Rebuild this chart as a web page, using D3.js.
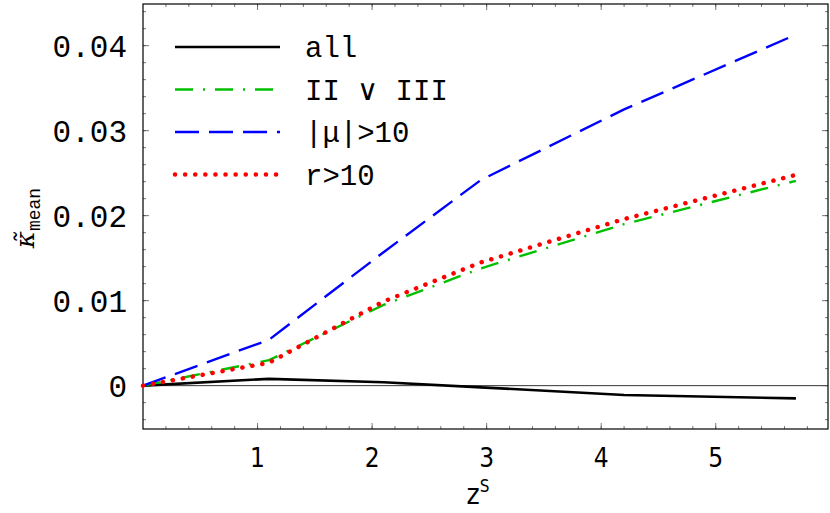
<!DOCTYPE html>
<html><head><meta charset="utf-8">
<script src="https://cdn.jsdelivr.net/npm/d3@7"></script>
<style>body{margin:0;background:#fff}</style>
</head><body><div id="chart"></div>
<script>
// data
const zs = [0, 1.1, 2.1, 2.95, 4.2, 5.7];
const allVals = [0, 0.0008, 0.0004, -0.0002, -0.0011, -0.0015];
const iiIiiVals = [0, 0.0030, 0.0095, 0.0138, 0.0190, 0.0241];
const muVals = [0, 0.0054, 0.0157, 0.0242, 0.0325, 0.0413];
const rVals = [0, 0.0027, 0.0099, 0.0145, 0.0196, 0.0248];
const yTicks = [0, 0.01, 0.02, 0.03, 0.04];
const yTickLabels = ["0", "0.01", "0.02", "0.03", "0.04"];
const xTicks = [1, 2, 3, 4, 5];
const seriesNames = ["all", "II \u2228 III", "|\u03bc|>10", "r>10"];

const margin = { top: 4, right: 2, bottom: 84, left: 143 },
    width = 830 - margin.left - margin.right,
    height = 513 - margin.top - margin.bottom;

const svg = d3.select("#chart").append("svg")
    .attr("width", 830).attr("height", 513);
const g = svg.append("g").attr("transform", `translate(${margin.left},${margin.top})`);

const x = d3.scaleLinear().domain([0, 5.98]).range([0, width]);
const y = d3.scaleLinear().domain([-0.0051, 0.0449]).range([height, 0]);

// zero line
g.append("line").attr("x1", 0).attr("x2", width)
  .attr("y1", y(0)).attr("y2", y(0)).attr("stroke", "#000").attr("stroke-width", 0.8);

// ticks, all inward
const minorX = d3.range(0.2, 5.99, 0.2), minorY = d3.range(-0.004, 0.045, 0.002);
function tickLines(vals, len, horiz, pos) {
  g.append("g").selectAll("line").data(vals).join("line")
    .attr("stroke", "#555").attr("stroke-width", 0.8)
    .each(function (v) {
      const s = d3.select(this);
      if (horiz) {
        const px = x(v), y0 = pos === "bottom" ? height : 0, d = pos === "bottom" ? -len : len;
        s.attr("x1", px).attr("x2", px).attr("y1", y0).attr("y2", y0 + d);
      } else {
        const py = y(v), x0 = pos === "left" ? 0 : width, d = pos === "left" ? len : -len;
        s.attr("y1", py).attr("y2", py).attr("x1", x0).attr("x2", x0 + d);
      }
    });
}
tickLines(minorX, 3, true, "bottom"); tickLines(minorX, 3, true, "top");
tickLines(xTicks, 6, true, "bottom"); tickLines(xTicks, 6, true, "top");
tickLines(minorY, 3, false, "left"); tickLines(minorY, 3, false, "right");
tickLines(yTicks, 6, false, "left"); tickLines(yTicks, 6, false, "right");

g.append("rect").attr("width", width).attr("height", height)
  .attr("fill", "none").attr("stroke", "#000").attr("stroke-width", 1.2);

// tick labels
g.append("g").selectAll("text").data(yTicks).join("text")
  .attr("x", -16).attr("y", d => y(d)).attr("dy", "0.35em")
  .attr("text-anchor", "end").attr("font-family", "Liberation Mono")
  .attr("font-size", 31).text((d, i) => yTickLabels[i]);
g.append("g").selectAll("text").data(xTicks).join("text")
  .attr("x", d => x(d)).attr("y", height + 38)
  .attr("text-anchor", "middle").attr("font-family", "DejaVu Sans Condensed, Liberation Sans Narrow")
  .attr("font-size", 26).text(d => d);

// axis titles
const xt = svg.append("text").attr("x", 478).attr("y", 504).attr("text-anchor", "middle")
  .attr("font-family", "DejaVu Sans Condensed").attr("font-size", 28);
xt.append("tspan").text("z");
xt.append("tspan").attr("dy", -12).attr("font-size", 17).text("S");
const yt = svg.append("text").attr("transform", "translate(34,218) rotate(-90)")
  .attr("text-anchor", "middle").attr("font-family", "DejaVu Serif").attr("font-size", 26);
yt.append("tspan").attr("font-style", "italic").text("\u03ba\u0303");
yt.append("tspan").attr("dy", 6).attr("font-family", "Liberation Mono").attr("font-size", 18).text("mean");

// series
const line = d3.line().x((d, i) => x(zs[i])).y(d => y(d));
const styles = [
  { vals: allVals, color: "#000", dash: null, w: 2.6, cap: "butt" },
  { vals: iiIiiVals, color: "#00c000", dash: "18,10,2,10", w: 2.4, cap: "butt" },
  { vals: muVals, color: "#0000ff", dash: "24,10", w: 2.4, cap: "butt" },
  { vals: rVals, color: "#ff0000", dash: "0.1,10", w: 4.5, cap: "round" }
];
styles.forEach(s => {
  g.append("path").datum(s.vals).attr("d", line).attr("fill", "none")
    .attr("stroke", s.color).attr("stroke-width", s.w)
    .attr("stroke-dasharray", s.dash).attr("stroke-linecap", s.cap);
});

// legend
styles.forEach((s, i) => {
  const ly = 47 + i * 42.5 - margin.top;
  g.append("line").attr("x1", 175 - margin.left).attr("x2", 280 - margin.left)
    .attr("y1", ly).attr("y2", ly).attr("stroke", s.color).attr("stroke-width", s.w)
    .attr("stroke-dasharray", s.dash).attr("stroke-linecap", s.cap);
  g.append("text").attr("x", 305 - margin.left).attr("y", ly).attr("dy", "0.35em")
    .attr("font-family", "Liberation Mono").attr("font-size", 29).text(seriesNames[i]);
});
</script></body></html>
